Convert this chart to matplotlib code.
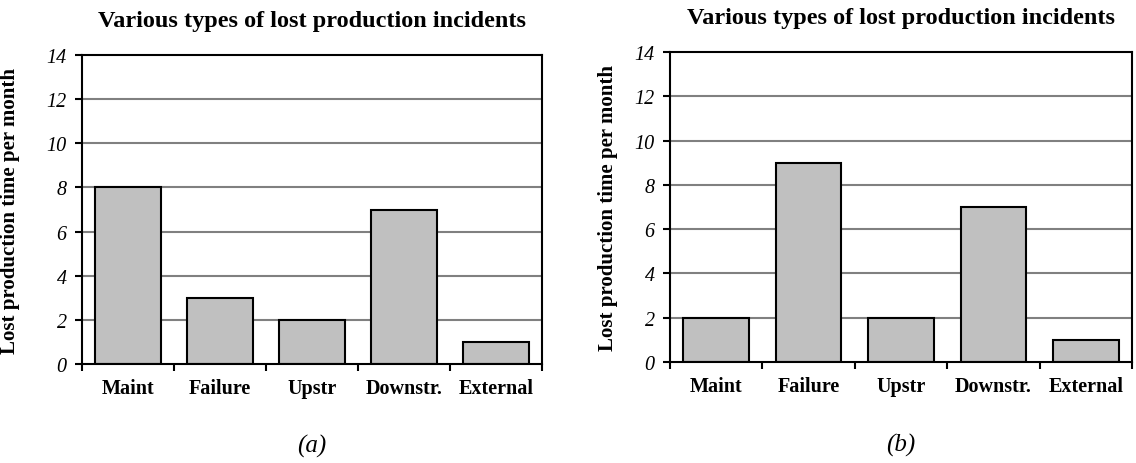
"""Two bar charts of lost production incidents per category, panels (a) and (b)."""

import numpy as np
import matplotlib.pyplot as plt

plt.rcParams["font.family"] = ["Liberation Serif", "DejaVu Serif"]

categories = ["Maint", "Failure", "Upstr", "Downstr.", "External"]
values_a = [8, 3, 2, 7, 1]
values_b = [2, 9, 2, 7, 1]
title = "Various types of lost production incidents"
ylabel = "Lost production time per month"
yticks = [0, 2, 4, 6, 8, 10, 12, 14]

BAR_COLOR = "#c0c0c0"
GRID_COLOR = "#808080"
W, H = 1136, 464


def draw_panel(ax, values, caption, label_x):
	x = np.arange(len(categories))
	for y in yticks[1:-1]:
		ax.axhline(y, color=GRID_COLOR, lw=1.5, zorder=1)
	ax.bar(x, values, width=0.71, color=BAR_COLOR, edgecolor="black", lw=1.5, zorder=2)
	ax.set_xlim(-0.5, len(categories) - 0.5)
	ax.set_ylim(0, 14)
	ax.set_yticks(yticks)
	ax.set_yticklabels([str(v) for v in yticks], fontstyle="italic", fontsize=14.5)
	ax.set_xticks(x)
	ax.set_xticklabels(categories, fontweight="bold", fontsize=14.5)
	ax.set_xticks(np.arange(len(categories) + 1) - 0.5, minor=True)
	ax.tick_params(axis="x", which="major", length=0, pad=10)
	ax.tick_params(axis="x", which="minor", length=5, width=1.5, direction="out")
	ax.tick_params(axis="y", length=5, width=1.5, direction="out", pad=6)
	for sp in ax.spines.values():
		sp.set_linewidth(1.5)
		sp.set_zorder(3)
	ax.set_title(title, fontweight="bold", fontsize=17.5, pad=21)
	ax.set_ylabel(ylabel, fontweight="bold", fontsize=15)
	ax.yaxis.set_label_coords(label_x, 0.5)
	ax.text(0.5, -0.265, caption, transform=ax.transAxes, ha="center", va="center",
			fontstyle="italic", fontsize=18)


def main():
	fig = plt.figure(figsize=(W / 100, H / 100), dpi=100)
	ax_a = fig.add_axes([82 / W, 1 - 365 / H, (542 - 82) / W, (365 - 56) / H])
	ax_b = fig.add_axes([670 / W, 1 - 363 / H, (1132 - 670) / W, (363 - 53) / H])
	draw_panel(ax_a, values_a, "(a)", (20 - 82) / 460)
	draw_panel(ax_b, values_b, "(b)", (618 - 670) / 462)
	fig.savefig("out.png", dpi=100)
	plt.close(fig)


if __name__ == "__main__":
	main()
